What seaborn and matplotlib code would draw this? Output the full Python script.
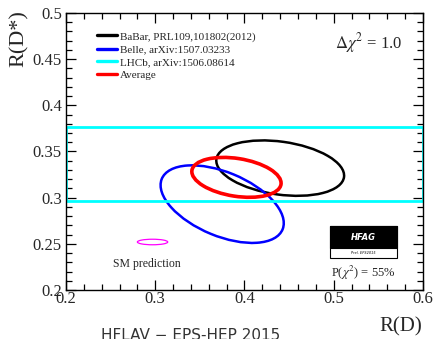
import numpy as np
import matplotlib
matplotlib.use("Agg")
import matplotlib.pyplot as plt
from matplotlib.patches import Ellipse, Rectangle
from matplotlib.lines import Line2D
from matplotlib.ticker import MultipleLocator
import seaborn as sns

# measurements: R(D), R(D*), total errors and correlation (delta chi2 = 1 contours)
labels = ["BaBar, PRL109,101802(2012)", "Belle, arXiv:1507.03233",
          "LHCb, arXiv:1506.08614", "Average"]
colors = ["black", "#0000ff", "#00ffff", "#ff0000"]

babar = [0.440, 0.332, 0.0716, 0.030, -0.27]
belle = [0.375, 0.293, 0.069, 0.042, -0.49]
average = [0.391, 0.322, 0.050, 0.0216, -0.29]
sm = [0.297, 0.252, 0.017, 0.003, 0.0]

lhcb_rdstar = 0.336
lhcb_err = 0.040

chi2_prob = 55

sns.set_theme(style="ticks")
plt.rcParams["font.family"] = ["Liberation Serif", "DejaVu Serif"]
plt.rcParams["mathtext.fontset"] = "stix"


def cov_ellipse(m, color, lw):
    cx, cy, sx, sy, rho = m
    cov = np.array([[sx**2, rho * sx * sy], [rho * sx * sy, sy**2]])
    vals, vecs = np.linalg.eigh(cov)
    order = vals.argsort()[::-1]
    vals, vecs = vals[order], vecs[:, order]
    angle = np.degrees(np.arctan2(vecs[1, 0], vecs[0, 0]))
    return Ellipse((cx, cy), 2 * np.sqrt(vals[0]), 2 * np.sqrt(vals[1]),
                   angle=angle, fill=False, edgecolor=color, linewidth=lw)


fig = plt.figure(figsize=(4.34, 3.39), dpi=100)
ax = fig.add_axes([0.152, 0.1445, 0.8227, 0.8172])

ax.add_patch(cov_ellipse(babar, colors[0], 1.8))
ax.add_patch(cov_ellipse(belle, colors[1], 1.8))
ax.add_patch(cov_ellipse(average, colors[3], 2.6))
ax.add_patch(cov_ellipse(sm, "#ff00ff", 0.9))
ax.axhspan(lhcb_rdstar - lhcb_err, lhcb_rdstar + lhcb_err, fill=False,
           edgecolor=colors[2], linewidth=2.0)

ax.set_xlim(0.2, 0.6)
ax.set_ylim(0.2, 0.5)
ax.xaxis.set_major_locator(MultipleLocator(0.1))
ax.xaxis.set_minor_locator(MultipleLocator(0.02))
ax.yaxis.set_major_locator(MultipleLocator(0.05))
ax.yaxis.set_minor_locator(MultipleLocator(0.01))
ax.set_xticklabels([f"{v:g}" for v in ax.get_xticks()])
ax.set_yticklabels([f"{v:g}" for v in ax.get_yticks()])
ax.tick_params(which="both", direction="in", top=True, right=True,
               labelsize=12, width=0.9, color="black")
ax.tick_params(which="major", length=7)
ax.tick_params(which="minor", length=4)
ax.tick_params(axis="x", pad=1)
ax.tick_params(axis="y", pad=3)
for s in ax.spines.values():
    s.set_color("black")
    s.set_linewidth(1.0)

ax.text(-0.132, 1.011, "R(D*)", transform=ax.transAxes, rotation=90,
        ha="center", va="top", fontsize=16)
ax.text(0.997, -0.134, "R(D)", transform=ax.transAxes, ha="right",
        va="center", fontsize=15)

handles = [Line2D([], [], color=c, linewidth=2.4) for c in colors]
ax.legend(handles, labels, loc="upper left", bbox_to_anchor=(0.0868, 0.933),
          frameon=False, fontsize=8, handlelength=1.8, handletextpad=0.3,
          labelspacing=0.28, borderpad=0, borderaxespad=0)

ax.text(0.753, 0.893, r"$\Delta\chi^2$ = 1.0", transform=ax.transAxes,
        fontsize=12, ha="left", va="center")
ax.text(0.2255, 0.094, "SM prediction", transform=ax.transAxes,
        fontsize=8.5, ha="center", va="center")
ax.text(0.8325, 0.062, rf"P($\chi^2$) = {chi2_prob}%", transform=ax.transAxes,
        fontsize=9, ha="center", va="center")

# HFAG logo box
ax.add_patch(Rectangle((0.7395, 0.1155), 0.1875, 0.1155, transform=ax.transAxes,
                       facecolor="white", edgecolor="black", linewidth=0.8))
ax.add_patch(Rectangle((0.7395, 0.1516), 0.1875, 0.0794, transform=ax.transAxes,
                       facecolor="black", edgecolor="black", linewidth=0.8))
ax.text(0.8325, 0.191, "HFAG", transform=ax.transAxes, color="white",
        fontsize=6, fontweight="bold", fontstyle="italic",
        family=["DejaVu Sans"], ha="center", va="center")
ax.text(0.8325, 0.1336, "Prel. EPS2015", transform=ax.transAxes, color="black",
        fontsize=2.5, fontstyle="italic", family=["DejaVu Sans"],
        ha="center", va="center")

fig.text(0.44, -0.002, "HFLAV \u2212 EPS-HEP 2015", family=["DejaVu Sans"],
         fontsize=11, color="#333333", ha="center", va="baseline")

fig.savefig("out.png", dpi=100, facecolor="white")
